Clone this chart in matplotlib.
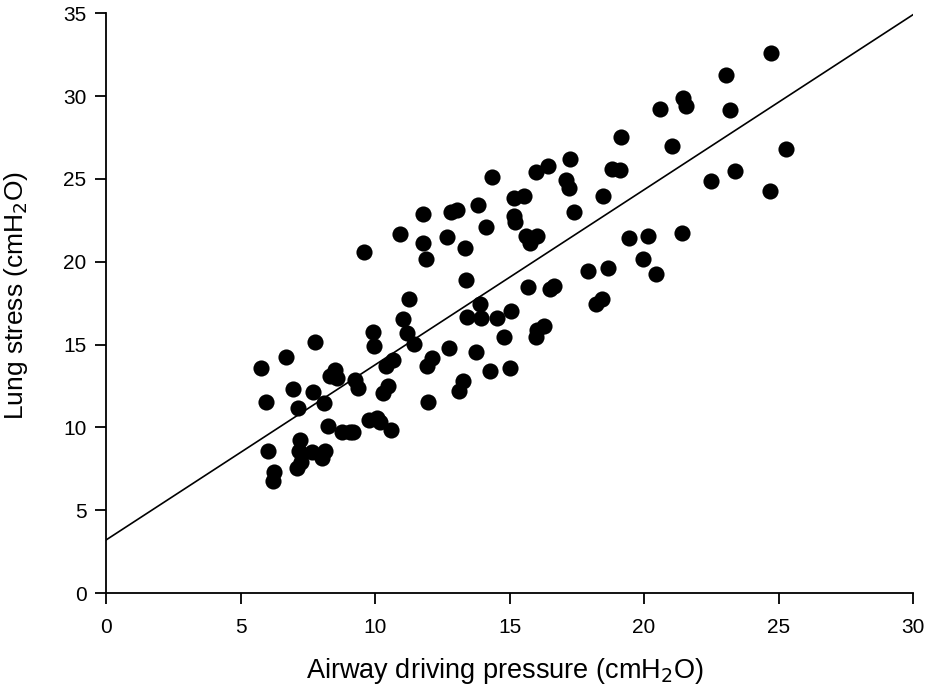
import matplotlib.pyplot as plt
import numpy as np

# airway driving pressure (x) and lung stress (y), cmH2O
driving_pressure = [
    5.76, 5.95, 6.02, 6.25, 6.21, 6.69, 6.95, 7.14, 7.21, 7.17,
    7.10, 7.25, 7.66, 7.70, 7.77, 8.10, 8.14, 8.03, 8.25, 8.33,
    8.51, 8.59, 8.77, 9.07, 9.18, 9.26, 9.37, 9.59, 9.78, 9.93,
    9.96, 10.07, 10.19, 10.30, 10.41, 10.48, 10.59, 10.67, 10.93, 11.04,
    11.19, 11.26, 11.45, 11.78, 11.78, 11.90, 11.93, 11.97, 12.12, 12.68,
    12.75, 12.83, 13.05, 13.12, 13.27, 13.35, 13.38, 13.42, 13.75, 13.83,
    13.90, 13.94, 14.13, 14.28, 14.35, 14.54, 14.80, 15.02, 15.06, 15.17,
    15.17, 15.20, 15.54, 15.61, 15.76, 15.69, 15.99, 16.02, 16.02, 15.99,
    16.28, 16.43, 16.51, 16.65, 17.10, 17.25, 17.21, 17.40, 17.92, 18.22,
    18.44, 18.48, 18.66, 18.81, 19.14, 19.11, 19.44, 19.96, 20.15, 20.45,
    20.60, 21.04, 21.45, 21.56, 21.41, 22.49, 23.05, 23.20, 23.38, 24.68,
    24.72, 25.28,
]
lung_stress = [
    13.58, 11.53, 8.57, 7.30, 6.76, 14.24, 12.31, 11.16, 9.23, 8.57,
    7.54, 7.90, 8.50, 12.13, 15.15, 11.47, 8.57, 8.15, 10.08, 13.10,
    13.46, 12.98, 9.72, 9.72, 9.72, 12.85, 12.37, 20.58, 10.44, 15.75,
    14.90, 10.56, 10.32, 12.07, 13.70, 12.49, 9.84, 14.06, 21.67, 16.54,
    15.69, 17.74, 15.03, 22.87, 21.12, 20.16, 13.70, 11.53, 14.18, 21.48,
    14.79, 22.99, 23.11, 12.19, 12.79, 20.82, 18.89, 16.66, 14.54, 23.42,
    17.44, 16.60, 22.09, 13.40, 25.10, 16.60, 15.45, 13.58, 17.02, 23.84,
    22.75, 22.39, 23.96, 21.55, 21.12, 18.47, 25.41, 21.55, 15.87, 15.45,
    16.11, 25.77, 18.35, 18.53, 24.92, 26.19, 24.44, 22.99, 19.43, 17.44,
    17.74, 23.96, 19.61, 25.59, 27.52, 25.53, 21.42, 20.16, 21.55, 19.25,
    29.21, 26.98, 29.87, 29.39, 21.73, 24.86, 31.26, 29.15, 25.47, 24.26,
    32.59, 26.80,
]

# regression line: lung stress = intercept + slope * driving pressure
fit_intercept = 3.2
fit_slope = 1.057

x_ticks = [0, 5, 10, 15, 20, 25, 30]
y_ticks = [0, 5, 10, 15, 20, 25, 30, 35]

plt.rcParams['font.family'] = ['Liberation Sans', 'DejaVu Sans']

fig = plt.figure(figsize=(9.26, 6.93), dpi=100)
ax = fig.add_axes([0.1145, 0.1443, 0.8715, 0.8367])

ax.scatter(driving_pressure, lung_stress, s=135, color='black', zorder=3,
           linewidths=0)

xs = np.array([0, 30])
ax.plot(xs, fit_intercept + fit_slope * xs, color='black', lw=1.2, zorder=2)

ax.set_xlim(0, 30)
ax.set_ylim(0, 35)
ax.set_xticks(x_ticks)
ax.set_yticks(y_ticks)

for side in ('top', 'right'):
    ax.spines[side].set_visible(False)
for side in ('left', 'bottom'):
    ax.spines[side].set_linewidth(1.3)
ax.tick_params(direction='out', length=8, width=1.3, labelsize=15)
ax.tick_params(axis='x', pad=10)
ax.tick_params(axis='y', pad=6)

ax.set_xlabel('Airway driving pressure (cmH$_2$O)', fontsize=19.5, va='top')
ax.xaxis.set_label_coords(0.494, -0.108)
ax.set_ylabel('Lung stress (cmH$_2$O)', fontsize=19)
ax.yaxis.set_label_coords(-0.094, 0.514)

fig.savefig('out.png', dpi=100)
